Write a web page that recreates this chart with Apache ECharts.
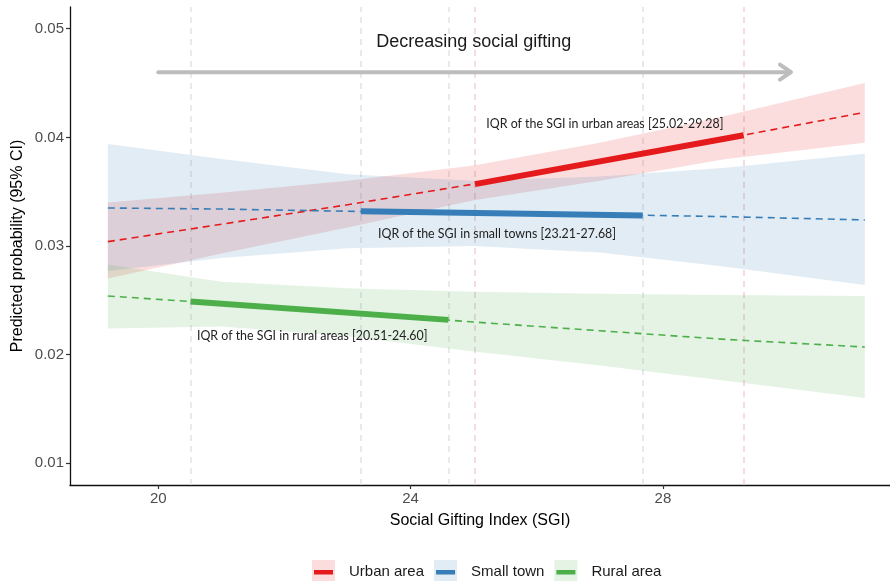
<!DOCTYPE html>
<html>
<head>
<meta charset="utf-8">
<script src="https://cdn.jsdelivr.net/npm/echarts@6/dist/echarts.min.js"></script>
<style>html,body{margin:0;padding:0;background:#fff}#c{width:890px;height:581px}</style>
</head>
<body>
<div id="c"></div>
<script>
// ---- data ----
const sgi = [19.2, 21, 23, 25, 27, 29, 31.2];
const urbanFit  = [0.0304, 0.0320, 0.0338, 0.0357, 0.0378, 0.0399, 0.0423];
const urbanLow  = [0.0270, 0.0293, 0.0317, 0.0342, 0.0360, 0.0380, 0.0395];
const urbanHigh = [0.0340, 0.0349, 0.0360, 0.0374, 0.0395, 0.0420, 0.0450];
const townFit   = [0.0335, 0.0334, 0.0332, 0.0330, 0.0329, 0.0327, 0.0324];
const townLow   = [0.0277, 0.0289, 0.0298, 0.0300, 0.0294, 0.0281, 0.0264];
const townHigh  = [0.0394, 0.0380, 0.0366, 0.0360, 0.0364, 0.0372, 0.0385];
const ruralFit  = [0.0254, 0.0247, 0.0239, 0.0230, 0.0222, 0.0214, 0.0207];
const ruralLow  = [0.0224, 0.0226, 0.0217, 0.0203, 0.0190, 0.0176, 0.0160];
const ruralHigh = [0.0283, 0.0267, 0.0261, 0.0258, 0.0256, 0.0255, 0.0254];

const urbanIqrX = [25.02, 29.28], urbanIqrY = [0.0357, 0.0402];
const townIqrX  = [23.21, 27.68], townIqrY  = [0.0332, 0.0328];
const ruralIqrX = [20.51, 24.60], ruralIqrY = [0.0249, 0.0232];

const groupNames = ['Urban area', 'Small town', 'Rural area'];
const noteText = ['IQR of the SGI in urban areas [25.02-29.28]',
                  'IQR of the SGI in small towns [23.21-27.68]',
                  'IQR of the SGI in rural areas [20.51-24.60]'];
const noteX = [27.08, 25.37, 22.44];
const noteY = [0.0412, 0.0311, 0.0217];

const arrowX = [20, 30.03], arrowY = 0.046;
const arrowLabel = 'Decreasing social gifting', arrowLabelX = 25, arrowLabelY = 0.0488;

const xTicks = [20, 24, 28];
const yTicks = [0.01, 0.02, 0.03, 0.04, 0.05];

// ---- styles ----
const colors = ['#E41A1C', '#377EB8', '#4DAF4A'];
const bandFill = ['rgba(228,26,28,0.15)', 'rgba(55,126,184,0.15)', 'rgba(77,175,74,0.15)'];
const vlineColor = ['#f0d2d6', '#e0e3e8', '#e3e3e3'];
// legend key: thick bar inside an (invisible) 23x23 box
const barIcon = 'path://M0,0L0.01,0L0,0.01Z M23,23L22.99,23L23,22.99Z M2,10L21,10L21,14.6L2,14.6Z';

function pairs(xs, ys) { return xs.map((x, i) => [x, ys[i]]); }

function bandSeries(low, high, k) {
  return {
    type: 'custom', z: 2, silent: true,
    data: [[sgi[0], low[0]]],
    renderItem: function (params, api) {
      const pts = [];
      for (let i = 0; i < sgi.length; i++) pts.push(api.coord([sgi[i], high[i]]));
      for (let i = sgi.length - 1; i >= 0; i--) pts.push(api.coord([sgi[i], low[i]]));
      return { type: 'polygon', shape: { points: pts }, style: { fill: bandFill[k] } };
    }
  };
}
function fitSeries(fit, k) {
  return {
    type: 'line', z: 3, silent: true, symbol: 'none',
    data: pairs(sgi, fit),
    lineStyle: { color: colors[k], width: 1.6, type: [7, 5] }
  };
}
function iqrSeries(xs, ys, k) {
  return {
    name: groupNames[k], type: 'line', z: 4, silent: true, symbol: 'none',
    color: colors[k],
    data: pairs(xs, ys),
    lineStyle: { color: colors[k], width: 6 },
    markLine: {
      silent: true, symbol: 'none', z: 1, label: { show: false },
      lineStyle: { color: vlineColor[k], width: 1.5, type: [6, 5] },
      emphasis: { disabled: true },
      data: xs.map(v => ({ xAxis: v }))
    }
  };
}

const textSeries = {
  type: 'custom', z: 6, silent: true,
  data: noteX.map((x, i) => [x, noteY[i], i]),
  renderItem: function (params, api) {
    const i = api.value(2);
    const p = api.coord([api.value(0), api.value(1)]);
    return { type: 'text', x: p[0], y: p[1],
      style: { text: noteText[i], fill: '#222', font: '12.4px Lato', align: 'center', verticalAlign: 'middle' } };
  }
};

const arrowSeries = {
  type: 'custom', z: 6, silent: true,
  data: [[arrowX[0], arrowY]],
  renderItem: function (params, api) {
    const a = api.coord([arrowX[0], arrowY]);
    const b = api.coord([arrowX[1], arrowY]);
    const t = api.coord([arrowLabelX, arrowLabelY]);
    const st = { stroke: '#bdbdbd', lineWidth: 4, lineCap: 'round', lineJoin: 'round', fill: null };
    return { type: 'group', children: [
      { type: 'line', shape: { x1: a[0], y1: a[1], x2: b[0] - 1, y2: b[1] }, style: st },
      { type: 'polyline', shape: { points: [[b[0] - 11, b[1] - 7.5], [b[0], b[1]], [b[0] - 11, b[1] + 7.5]] }, style: st },
      { type: 'text', x: t[0], y: t[1], style: { text: arrowLabel, fill: '#1a1a1a', font: '18px "Liberation Sans", Arial', align: 'center', verticalAlign: 'middle' } }
    ] };
  }
};

const legendCommon = { left: 312, top: 560, padding: 0, orient: 'horizontal', itemWidth: 23, itemHeight: 23, itemGap: 10, selectedMode: false };

const chart = echarts.init(document.getElementById('c'), null, { renderer: 'canvas' });
chart.setOption({
  animation: false,
  backgroundColor: '#fff',
  textStyle: { fontFamily: '"Liberation Sans", Arial, sans-serif' },
  grid: { left: 70, right: 0, top: 7, bottom: 96, containLabel: false },
  xAxis: {
    type: 'value', min: 18.6, max: 31.6,
    name: 'Social Gifting Index (SGI)', nameLocation: 'middle', nameGap: 28,
    nameTextStyle: { fontSize: 16, color: '#000' },
    axisLine: { onZero: false, lineStyle: { color: '#111', width: 1.3 } },
    axisTick: { show: true, customValues: xTicks, length: 4, lineStyle: { color: '#333', width: 1.2 } },
    axisLabel: { customValues: xTicks, color: '#4d4d4d', fontSize: 15, margin: 6 },
    splitLine: { show: false }
  },
  yAxis: {
    type: 'value', min: 0.008, max: 0.052,
    name: 'Predicted probability (95% CI)', nameLocation: 'middle', nameGap: 44,
    nameMoveOverlap: false,
    nameTextStyle: { fontSize: 16, color: '#000' },
    axisLine: { show: true, onZero: false, lineStyle: { color: '#111', width: 1.3 } },
    axisTick: { show: true, customValues: yTicks, length: 4, lineStyle: { color: '#333', width: 1.2 } },
    axisLabel: { customValues: yTicks, color: '#4d4d4d', fontSize: 15, margin: 6, formatter: v => v.toFixed(2) },
    splitLine: { show: false }
  },
  legend: [
    Object.assign({}, legendCommon, {
      textStyle: { fontSize: 15, color: '#1a1a1a', padding: [3, 0, 0, 9] },
      data: groupNames.map((n, k) => ({ name: n, icon: 'rect', itemStyle: { color: bandFill[k], borderWidth: 0 } }))
    }),
    Object.assign({}, legendCommon, {
      textStyle: { fontSize: 15, color: 'rgba(0,0,0,0)', padding: [3, 0, 0, 9] },
      data: groupNames.map((n, k) => ({ name: n, icon: barIcon, itemStyle: { color: colors[k], borderWidth: 0 } }))
    })
  ],
  series: [
    bandSeries(urbanLow, urbanHigh, 0),
    bandSeries(townLow, townHigh, 1),
    bandSeries(ruralLow, ruralHigh, 2),
    fitSeries(urbanFit, 0), fitSeries(townFit, 1), fitSeries(ruralFit, 2),
    iqrSeries(urbanIqrX, urbanIqrY, 0), iqrSeries(townIqrX, townIqrY, 1), iqrSeries(ruralIqrX, ruralIqrY, 2),
    textSeries, arrowSeries
  ]
});
</script>
</body>
</html>
